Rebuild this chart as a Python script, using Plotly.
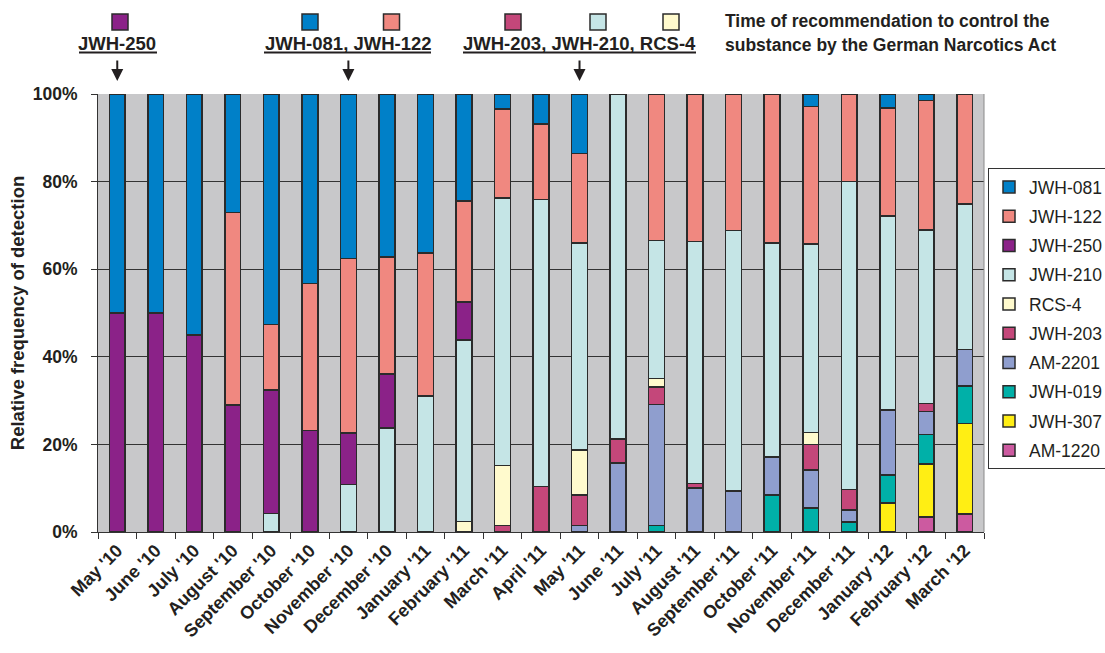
import plotly.graph_objects as go

# Months on the x axis
months = ["May '10", "June '10", "July '10", "August '10", "September '10", "October '10",
          "November '10", "December '10", "January '11", "February '11", "March '11",
          "April '11", "May '11", "June '11", "July '11", "August '11", "September '11",
          "October '11", "November '11", "December '11", "January '12", "February '12",
          "March '12"]

# Relative frequency of detection (%) per substance and month (None = not detected)
jwh_081 = [50, 50, 55, 27, 52.6, 43.3, 37.6, 37.2, 36.3, 24.4, 3.4, 6.9, 13.6,
           None, None, None, None, None, 2.9, None, 3.2, 1.5, None]
jwh_122 = [None, None, None, 44, 15.0, 33.5, 39.8, 26.7, 32.7, 23.1, 20.4, 17.2, 20.4,
           None, 33.4, 33.7, 31.2, 34.0, 31.4, 20.0, 24.6, 29.6, 25.1]
jwh_250 = [50, 50, 45, 29, 28.2, 23.2, 11.7, 12.3, None, 8.7, None, None, None,
           None, None, None, None, None, None, None, None, None, None]
jwh_210 = [None, None, None, None, 4.2, None, 10.9, 23.8, 31.0, 41.4, 61.0, 65.5, 47.3,
           78.8, 31.6, 55.2, 59.4, 48.9, 43.0, 70.3, 44.4, 39.6, 33.2]
rcs_4 = [None, None, None, None, None, None, None, None, None, 2.4, 13.7, None, 10.2,
         None, 1.9, None, None, None, 2.7, None, None, None, None]
jwh_203 = [None, None, None, None, None, None, None, None, None, None, 1.5, 10.4, 7.0,
           5.4, 4.0, 1.0, None, None, 5.9, 4.7, None, 1.8, None]
am_2201 = [None, None, None, None, None, None, None, None, None, None, None, None, 1.5,
           15.8, 27.6, 10.1, 9.4, 8.6, 8.6, 2.7, 14.8, 5.2, 8.4]
jwh_019 = [None, None, None, None, None, None, None, None, None, None, None, None, None,
           None, 1.5, None, None, 8.5, 5.5, 2.3, 6.4, 6.8, 8.5]
jwh_307 = [None, None, None, None, None, None, None, None, None, None, None, None, None,
           None, None, None, None, None, None, None, 6.6, 12.1, 20.7]
am_1220 = [None, None, None, None, None, None, None, None, None, None, None, None, None,
           None, None, None, None, None, None, None, None, 3.4, 4.1]

# Stacking order, bottom to top
series = [
    ("AM-1220", am_1220, "#CC5AA0"),
    ("JWH-307", jwh_307, "#FFEE14"),
    ("JWH-019", jwh_019, "#00B0A8"),
    ("AM-2201", am_2201, "#8F9ECE"),
    ("JWH-203", jwh_203, "#C4477A"),
    ("RCS-4", rcs_4, "#FFFACD"),
    ("JWH-210", jwh_210, "#C5E5E6"),
    ("JWH-250", jwh_250, "#8B2288"),
    ("JWH-122", jwh_122, "#F08880"),
    ("JWH-081", jwh_081, "#0080C8"),
]
colors = {name: c for name, _, c in series}

FONT = "Liberation Sans, Arial, sans-serif"
TEXT = "#231F20"
OUTLINE = "#2B2B2B"

fig = go.Figure()
n = len(series)
for i, (name, vals, color) in enumerate(series):
    fig.add_trace(go.Bar(
        x=months, y=vals, name=name, legendgroup=name, legendrank=n - i,
        marker=dict(color=color, line=dict(color=OUTLINE, width=1.5)),
        width=0.41,
    ))

# Plot-area geometry in pixels (used for the header decorations)
W, H = 1105, 653
L, R, T, B = 98, 984, 94, 532


def px(x):
    return (x - L) / (R - L)


def py(y):
    return (B - y) / (B - T)


shapes = []
annotations = []

# Header: substance swatches, underlined group labels and arrows to the month
groups = [
    ("May '10", "JWH-250", 79, 157, [("JWH-250", 120)]),
    ("November '10", "JWH-081, JWH-122", 264, 431, [("JWH-081", 310), ("JWH-122", 391.5)]),
    ("May '11", "JWH-203, JWH-210, RCS-4", 463, 696,
     [("JWH-203", 513), ("JWH-210", 598), ("RCS-4", 671)]),
]
for month, label, ux0, ux1, swatches in groups:
    for sub, cx in swatches:
        shapes.append(dict(type="rect", xref="paper", yref="paper",
                           x0=px(cx - 8), x1=px(cx + 8), y0=py(30), y1=py(14),
                           fillcolor=colors[sub], line=dict(color=OUTLINE, width=1.5)))
    annotations.append(dict(x=month, xref="x", y=py(43.5), yref="paper",
                            text="<b>%s</b>" % label, showarrow=False,
                            xanchor="center", yanchor="middle",
                            font=dict(family=FONT, size=18.5, color=TEXT)))
    shapes.append(dict(type="line", xref="paper", yref="paper",
                       x0=px(ux0), x1=px(ux1), y0=py(52.5), y1=py(52.5),
                       line=dict(color=TEXT, width=2)))
    annotations.append(dict(x=month, xref="x", y=py(81), yref="paper",
                            ax=0, ay=-22, axref="pixel", ayref="pixel",
                            text="", showarrow=True, arrowhead=2, arrowsize=1.2,
                            arrowwidth=2, arrowcolor=TEXT))

for text, yc in [("Time of recommendation to control the", 21),
                 ("substance by the German Narcotics Act", 44.5)]:
    annotations.append(dict(x=px(723), xref="paper", y=py(yc), yref="paper",
                            text="<b>%s</b>" % text, showarrow=False,
                            xanchor="left", yanchor="middle",
                            font=dict(family=FONT, size=17.5, color=TEXT)))

# Thin right border of the plot area
shapes.append(dict(type="line", xref="paper", yref="paper", x0=1, x1=1, y0=0, y1=1,
                   line=dict(color="#8A8A8A", width=1)))

fig.update_layout(
    width=W, height=H,
    margin=dict(l=L, r=W - R, t=T, b=H - B, pad=0, autoexpand=False),
    barmode="stack",
    plot_bgcolor="#C8C8CA",
    paper_bgcolor="white",
    font=dict(family=FONT, color=TEXT),
    showlegend=True,
    legend=dict(
        x=px(988), xanchor="left", y=py(168), yanchor="top",
        traceorder="grouped", tracegroupgap=3.5,
        bordercolor="#333333", borderwidth=1, bgcolor="white",
        font=dict(family=FONT, size=17.5, color=TEXT),
    ),
    shapes=shapes,
    annotations=annotations,
)

fig.update_xaxes(
    type="category", categoryorder="array", categoryarray=months,
    range=[-0.5, len(months) - 0.5], autorange=False,
    tickson="boundaries", ticks="outside", ticklen=6, tickcolor="#333333",
    showline=True, linecolor="#333333", linewidth=1,
    showgrid=False, tickangle=-45,
    tickfont=dict(family=FONT, size=18, color=TEXT),
    tickprefix="<b>", ticksuffix="</b>",
)
fig.update_yaxes(
    range=[0, 100], tickvals=[0, 20, 40, 60, 80, 100],
    ticktext=["<b>%d%%</b>" % v for v in [0, 20, 40, 60, 80, 100]],
    ticks="outside", ticklen=6, tickcolor="#333333", ticklabelstandoff=10,
    showline=True, linecolor="#333333", linewidth=1,
    showgrid=True, gridcolor="#333333", gridwidth=1, zeroline=False,
    tickfont=dict(family=FONT, size=17.5, color=TEXT),
    title=dict(text="<b>Relative frequency of detection</b>", standoff=3,
               font=dict(family=FONT, size=18.5, color=TEXT)),
)

fig.write_html("out.html")
